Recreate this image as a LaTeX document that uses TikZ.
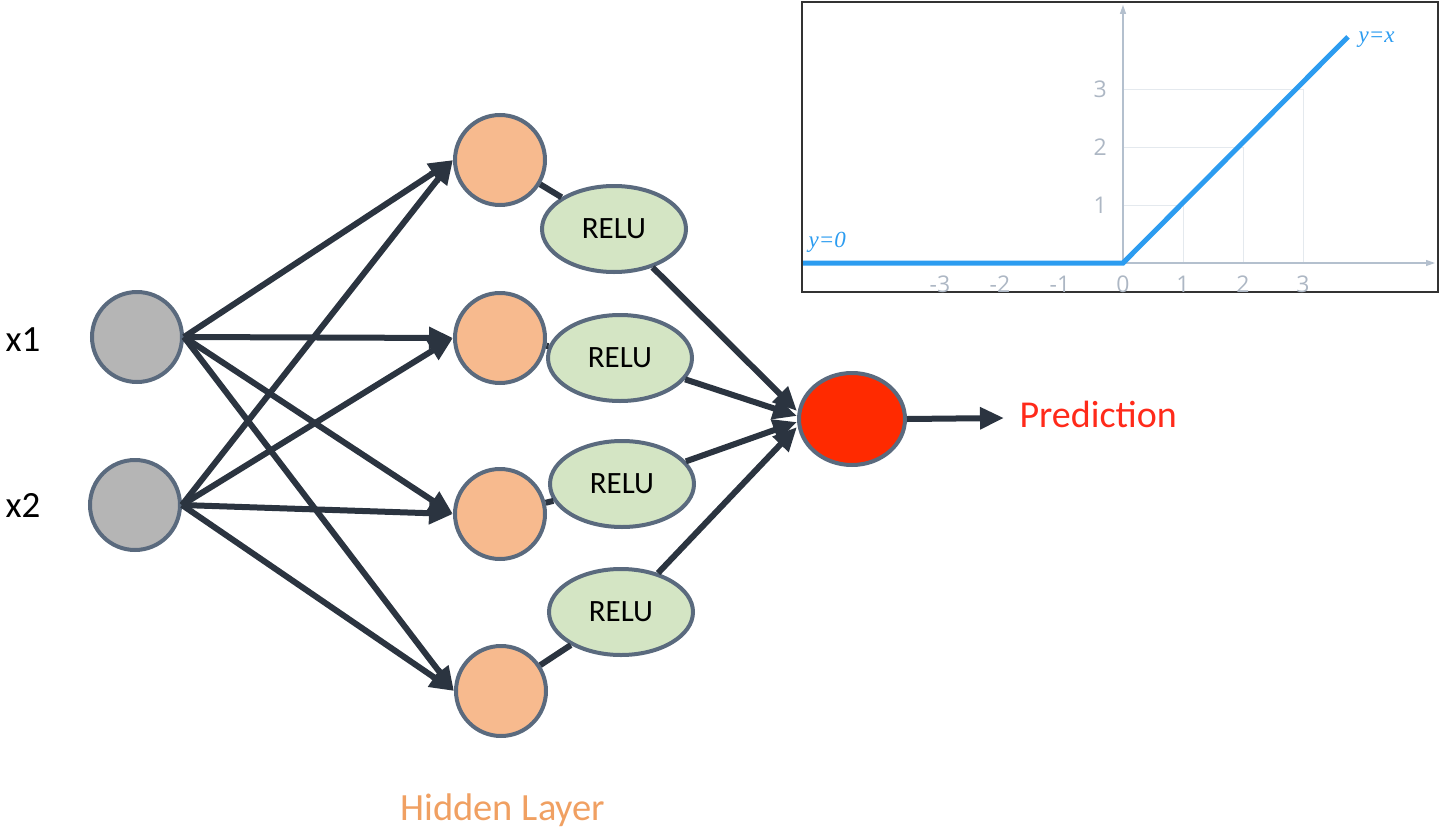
\documentclass[tikz,border=0pt]{standalone}
\usepackage{fontspec}
\setmainfont{Carlito}
\newfontfamily\plotfont{Open Sans}
\newfontfamily\labelserif{Liberation Serif}
\usetikzlibrary{arrows.meta,shapes.geometric}

\definecolor{edgecol}{HTML}{2B3440}
\definecolor{ringcol}{HTML}{5A6A7E}
\definecolor{inputfill}{HTML}{B5B5B5}
\definecolor{hiddenfill}{HTML}{F7BA8E}
\definecolor{relufill}{HTML}{D4E5C4}
\definecolor{outfill}{HTML}{FF2A00}
\definecolor{predcol}{HTML}{FF2A1A}
\definecolor{layercol}{HTML}{F0A062}
\definecolor{plotblue}{HTML}{2C9CF0}
\definecolor{axiscol}{HTML}{B4C0CE}
\definecolor{gridcol}{HTML}{E4E9EE}
\definecolor{tickcol}{HTML}{ADB7C4}

\tikzset{
  neuron/.style={circle, draw=ringcol, line width=4pt, minimum size=90pt, inner sep=0pt},
  inneuron/.style={neuron, fill=inputfill},
  hidneuron/.style={neuron, fill=hiddenfill},
  outneuron/.style={ellipse, draw=ringcol, line width=4pt, fill=outfill,
    minimum width=106pt, minimum height=92pt, inner sep=0pt},
  relubox/.style={ellipse, draw=ringcol, line width=4pt, fill=relufill,
    minimum width=144pt, minimum height=86pt, inner sep=0pt,
    font=\fontsize{31}{36}\selectfont},
  wire/.style={draw=edgecol, line width=6pt},
  arrowwire/.style={wire, -{Triangle[length=24pt,width=21pt]}},
  sidelabel/.style={font=\fontsize{37}{42}\selectfont, anchor=west},
  ticklabel/.style={font=\plotfont\fontsize{23}{26}\selectfont, text=tickcol},
  curvelabel/.style={font=\labelserif\itshape\fontsize{23}{26}\selectfont, text=plotblue}
}

\begin{document}
\begin{tikzpicture}[x=1pt,y=-1pt]
\useasboundingbox (0,0) rectangle (1441,830);

% input layer
\node[inneuron] (in1) at (137,337) {};
\node[inneuron] (in2) at (135,505) {};
\node[sidelabel] (lx1) at (2,340) {x1};
\node[sidelabel] (lx2) at (2,505) {x2};

% hidden layer
\node[hidneuron] (h1) at (500,160) {};
\node[hidneuron] (h2) at (500,338) {};
\node[hidneuron] (h3) at (500,514) {};
\node[hidneuron] (h4) at (501,691) {};

% activations
\node[relubox] (r1) at (614,229) {RELU};
\node[relubox] (r2) at (620,358) {RELU};
\node[relubox] (r3) at (622,484) {RELU};
\node[relubox] (r4) at (621,612) {RELU};

% output
\node[outneuron] (out) at (852,419) {};
\coordinate (pred) at (1004,418);
\node[anchor=west, text=predcol, font=\fontsize{38}{44}\selectfont] (predtext) at (1016,414) {Prediction};
\node[text=layercol, font=\fontsize{38.5}{44}\selectfont] (layername) at (503,810) {Hidden Layer};

% connections: every input feeds every hidden unit
\foreach \i in {in1,in2}
  \foreach \h in {h1,h2,h3,h4}
    \draw[arrowwire] (\i.east) -- (\h.west);
% hidden unit -> activation -> output
\draw[wire] (h1) -- (r1);
\draw[wire] (h2) -- (r2);
\draw[wire] (h3) -- (r3);
\draw[wire] (h4) -- (r4);
\draw[arrowwire] (r1) -- ([shift={(0,-8)}]out.west);
\draw[arrowwire] (r2) -- ([shift={(0,-3)}]out.west);
\draw[arrowwire] (r3) -- ([shift={(0,3)}]out.west);
\draw[arrowwire] (r4) -- ([shift={(0,8)}]out.west);
\draw[arrowwire] (out.east) -- (pred);

% ReLU plot
\draw[line width=2pt, draw=black!80] (802,2) rectangle (1438,292);
\begin{scope}[shift={(1123,263)}, x=60pt, y=58pt]
  \foreach \v in {1,2,3} {
    \draw[gridcol, line width=1pt] (0,\v) -- (\v,\v) -- (\v,0);
    \node[ticklabel] (ty\v) at (-0.38,\v) {\v};
    \node[ticklabel] (tx\v) at (\v,-0.36) {\v};
    \node[ticklabel] (txm\v) at (-\v-0.05,-0.36) {-\v};
  }
  \node[ticklabel] (tx0) at (0,-0.36) {0};
  \draw[axiscol, line width=1.2pt, -{Triangle[length=9pt,width=6pt]}] (-5.3,0) -- (5.2,0);
  \draw[axiscol, line width=1.2pt, -{Triangle[length=9pt,width=6pt]}] (0,0) -- (0,4.45);
  \draw[plotblue, line width=5pt] (-5.33,0) -- (0,0) -- (3.75,3.9);
  \node[curvelabel, anchor=west] (lyx) at (3.87,3.85) {y=x};
  \node[curvelabel, anchor=west] (ly0) at (-5.3,0.36) {y=0};
\end{scope}
\end{tikzpicture}
\end{document}
